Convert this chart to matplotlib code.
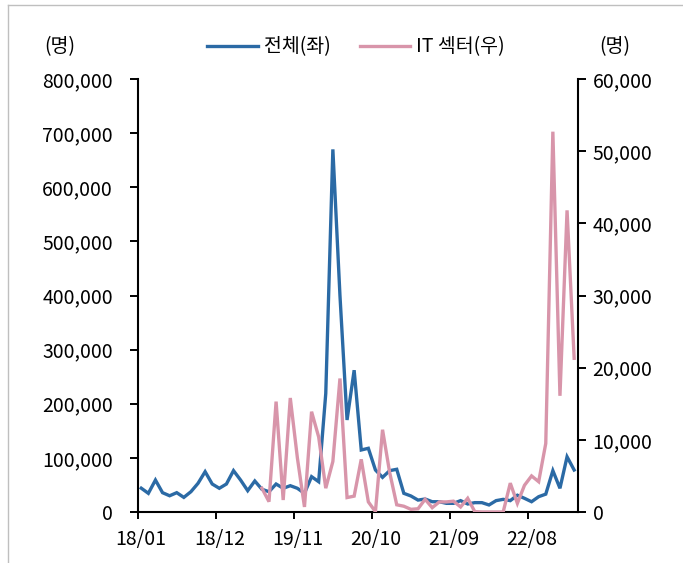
import numpy as np
import pandas as pd
import matplotlib
matplotlib.use("Agg")
import matplotlib.pyplot as plt
from matplotlib.lines import Line2D
from matplotlib.ticker import FuncFormatter, FixedLocator

plt.rcParams['font.family'] = ['Noto Sans CJK KR', 'DejaVu Sans']
plt.rcParams['font.weight'] = 'light'

# Monthly categories 2018-01 .. 2023-02
months = pd.period_range("2018-01", "2023-02", freq="M").strftime("%y/%m").tolist()
tick_labels = ["18/01", "18/12", "19/11", "20/10", "21/09", "22/08"]

# 전체 (left axis, persons)
total = [44000, 34500, 59000, 35700, 30000, 35700, 27000, 37500, 53000, 74500,
         51700, 43800, 51700, 76400, 59000, 39400, 57300, 42000, 37500, 51700,
         43800, 48600, 43800, 34500, 65300, 56000, 219000, 670000, 400000, 170000,
         262000, 114600, 117700, 77600, 64000, 76400, 78900, 34500, 29600, 22000,
         24000, 19000, 19000, 16000, 16000, 21000, 14800, 17300, 17300, 13000,
         21000, 23400, 21000, 31000, 25300, 19000, 28300, 33000, 76400, 43800,
         102000, 77600]

# IT 섹터 (right axis, persons) – series begins 2019-06
it_sector = [np.nan] * 17 + [
    3300, 1430, 15300, 1660, 15800, 7500, 700, 13900, 10400, 3300,
    7000, 18500, 2000, 2200, 7300, 1400, 50, 11400, 5500, 1000,
    800, 370, 450, 1760, 600, 1400, 1400, 1500, 700, 1900,
    50, 0, 0, 0, 0, 4000, 1200, 3700, 5000, 4200,
    9500, 52700, 16100, 41800, 21300]

blue = "#2B6AA5"
pink = "#D895AA"
fs = 14
lw = 2.4

fig = plt.figure(figsize=(6.83, 5.63), dpi=100)

# thin grey frame along the top and left edges
fig.add_artist(Line2D([8 / 683, 8 / 683], [0, 1 - 5 / 563], transform=fig.transFigure,
                      color="#BFBFBF", lw=1.0))
fig.add_artist(Line2D([8 / 683, 1], [1 - 5 / 563, 1 - 5 / 563], transform=fig.transFigure,
                      color="#BFBFBF", lw=1.0))

ax = fig.add_axes([137.7 / 683, 1 - 512 / 563, 440 / 683, 433 / 563])
ax2 = ax.twinx()

x = np.arange(len(months))
ax.plot(x, total, color=blue, lw=lw, solid_joinstyle="miter")
ax2.plot(x, it_sector, color=pink, lw=lw, solid_joinstyle="miter")

ax.set_xlim(-0.5, len(months) - 0.5)
ax.set_ylim(0, 800000)
ax2.set_ylim(0, 60000)

ax.set_yticks(np.arange(0, 800001, 100000))
ax2.set_yticks(np.arange(0, 60001, 10000))
fmt = FuncFormatter(lambda v, p: f"{int(v):,}")
ax.yaxis.set_major_formatter(fmt)
ax2.yaxis.set_major_formatter(fmt)

# tick marks on category boundaries, labels on category centres
label_pos = [months.index(t) for t in tick_labels]
ax.xaxis.set_major_locator(FixedLocator([p - 0.5 for p in label_pos]))
ax.xaxis.set_major_formatter(FuncFormatter(lambda v, p: ""))
ax.xaxis.set_minor_locator(FixedLocator(label_pos))
ax.set_xticklabels(tick_labels, minor=True)
ax.tick_params(axis="x", which="major", direction="out", length=5, width=1.4)
ax.tick_params(axis="x", which="minor", length=0, pad=12, labelsize=fs)

ax.tick_params(axis="y", direction="out", length=5.8, width=1.4, pad=12, labelsize=fs)
ax2.tick_params(axis="y", direction="out", length=5.8, width=1.4, pad=5, labelsize=fs)

for a in (ax, ax2):
    a.spines["top"].set_visible(False)
    for s in ("left", "right", "bottom"):
        a.spines[s].set_linewidth(1.5)
ax.spines["right"].set_visible(False)
ax2.spines["left"].set_visible(False)
ax2.spines["bottom"].set_visible(False)

fig.text(60 / 683, 1 - 47 / 563, "(명)", fontsize=fs, ha="center", va="center")
fig.text(615 / 683, 1 - 47 / 563, "(명)", fontsize=fs, ha="center", va="center")

handles = [Line2D([], [], color=blue, lw=lw), Line2D([], [], color=pink, lw=lw)]
fig.legend(handles, ["전체(좌)", "IT 섹터(우)"], loc="center",
           bbox_to_anchor=(356 / 683, 1 - 47 / 563), ncol=2, frameon=False,
           fontsize=fs, handlelength=2.6, handletextpad=0.3, columnspacing=1.5,
           borderpad=0, borderaxespad=0)

fig.savefig("out.png", dpi=100)
